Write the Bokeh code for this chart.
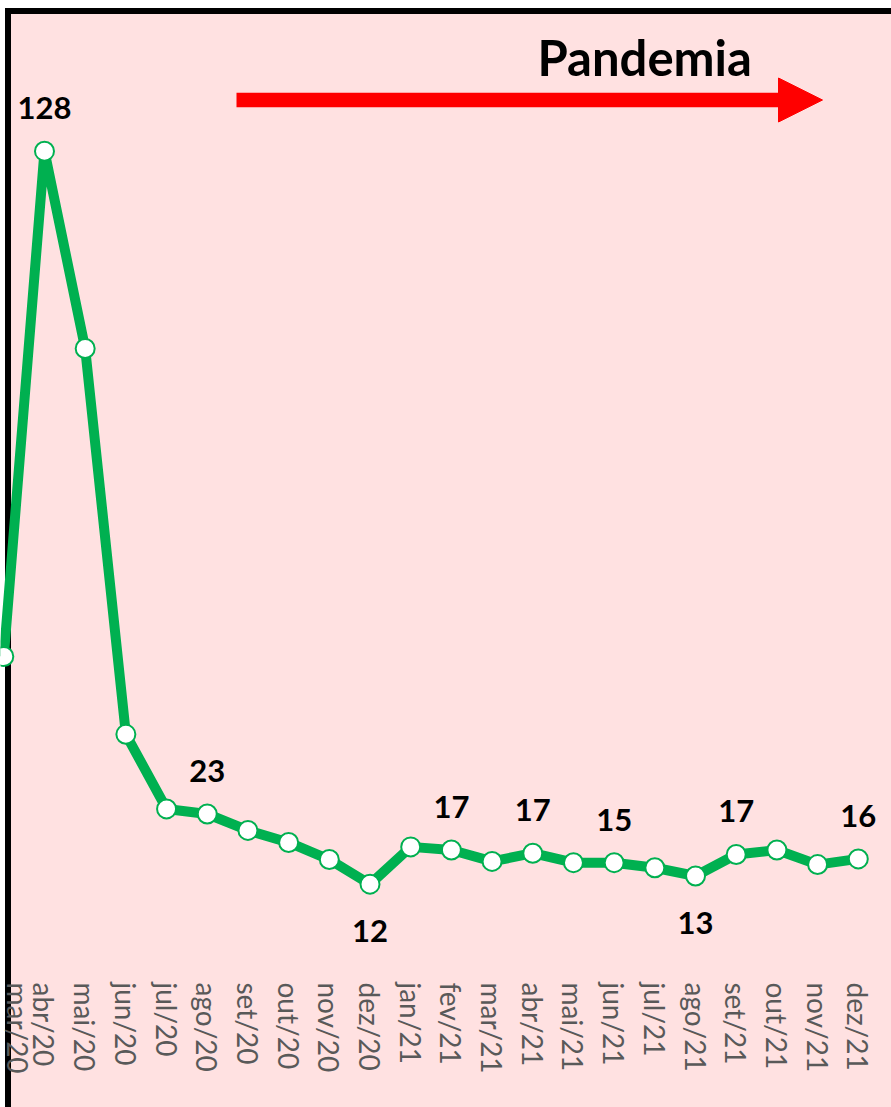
from bokeh.plotting import figure
from bokeh.models import Range1d, FixedTicker, Arrow, NormalHead, Label
from bokeh.embed import file_html
from bokeh.resources import INLINE
from bokeh.core.properties import value

# ---------------- data ----------------
months = ["mar/20", "abr/20", "mai/20", "jun/20", "jul/20", "ago/20", "set/20",
          "out/20", "nov/20", "dez/20", "jan/21", "fev/21", "mar/21", "abr/21",
          "mai/21", "jun/21", "jul/21", "ago/21", "set/21", "out/21", "nov/21",
          "dez/21"]
rate = [48.0, 127.9, 96.7, 35.7, 23.9, 23.1, 20.5, 18.6, 15.9, 12.0, 17.9,
        17.4, 15.6, 16.9, 15.4, 15.4, 14.6, 13.3, 16.7, 17.4, 15.1, 16.0]
labels_above = ["abr/20", "ago/20", "fev/21", "abr/21", "jun/21", "set/21", "dez/21"]
labels_below = ["dez/20", "ago/21"]
annotation_text = "Pandemia"

# ---------------- layout (pixels) ----------------
OX, OY = 0, 0            # page position of the figure
W, H = 891 - OX, 1107 - OY
FRAME_BOTTOM = 975       # page y of the frame bottom
X0, DX = 3.3, 40.69      # page x of first category, category spacing
Y0, DY = 959.6, 6.325    # page y of value 0, pixels per unit

def px(page_x):
    return (page_x - X0) / DX

def py(page_y):
    return (Y0 - page_y) / DY

Hf = FRAME_BOTTOM - OY
x_range = Range1d(px(OX), px(OX + W))
y_range = Range1d(py(OY + Hf), py(OY))

PINK = "#FFE1E1"
GREEN = "#00B050"
GREY = "#595959"
FONT = "Lato"

p = figure(width=W, height=H, x_range=x_range, y_range=y_range,
           output_backend="svg", toolbar_location=None, y_axis_location=None,
           min_border_left=0, min_border_right=0, min_border_top=0,
           min_border_bottom=H - Hf)
p.background_fill_alpha = 0
p.border_fill_alpha = 0
p.outline_line_color = None
p.grid.visible = False

# static frame decoration (white strips, black border lines, pink fill)
p.styles = {
    "background-color": PINK,
    "background-image": ("linear-gradient(white, white), linear-gradient(white, white), "
                         "linear-gradient(black, black), linear-gradient(black, black)"),
    "background-position": f"0px 0px, 0px 0px, {5 - OX}px {8 - OY}px, {5 - OX}px {8 - OY}px",
    "background-size": f"100% {8 - OY}px, {5 - OX}px 100%, 100% 6px, 6px 100%",
    "background-repeat": "no-repeat",
}

xs = list(range(len(months)))

# x axis
ax = p.xaxis[0]
ax.ticker = FixedTicker(ticks=xs)
ax.major_label_overrides = {i: m for i, m in enumerate(months)}
ax.major_label_orientation = "vertical"
ax.major_label_text_font = FONT
ax.major_label_text_font_size = "28px"
ax.major_label_text_color = GREY
ax.major_label_standoff = 7
ax.axis_line_color = None
ax.major_tick_line_color = None
ax.minor_tick_line_color = None
ax.major_tick_out = 0
ax.major_tick_in = 0

# series
p.line(xs, rate, line_color=GREEN, line_width=10, line_join="round")
p.scatter(xs, rate, size=19, fill_color="white", line_color=GREEN, line_width=2)

# data labels
ia = [months.index(m) for m in labels_above]
ib = [months.index(m) for m in labels_below]
p.text([xs[i] for i in ia], [rate[i] for i in ia], text=[f"{round(rate[i])}" for i in ia],
       text_font=value(FONT), text_font_style="bold", text_font_size="31px",
       text_color="black", text_align="center", text_baseline="alphabetic", y_offset=-43)
p.text([xs[i] for i in ib], [rate[i] for i in ib], text=[f"{round(rate[i])}" for i in ib],
       text_font=value(FONT), text_font_style="bold", text_font_size="31px",
       text_color="black", text_align="center", text_baseline="alphabetic", y_offset=47)

# "Pandemia" arrow
p.add_layout(Arrow(end=NormalHead(size=44, fill_color="red", line_color="red", line_width=1),
                   x_start=px(236), y_start=py(99.5), x_end=px(822), y_end=py(99.5),
                   line_color="red", line_width=14.4, line_cap="butt"))
p.add_layout(Label(x=px(537), y=py(56.3), text=annotation_text, text_font=FONT,
                   text_font_style="bold", text_font_size="49px", text_color="black",
                   text_align="left", text_baseline="alphabetic"))

open("out.html", "w").write(file_html(p, INLINE))
